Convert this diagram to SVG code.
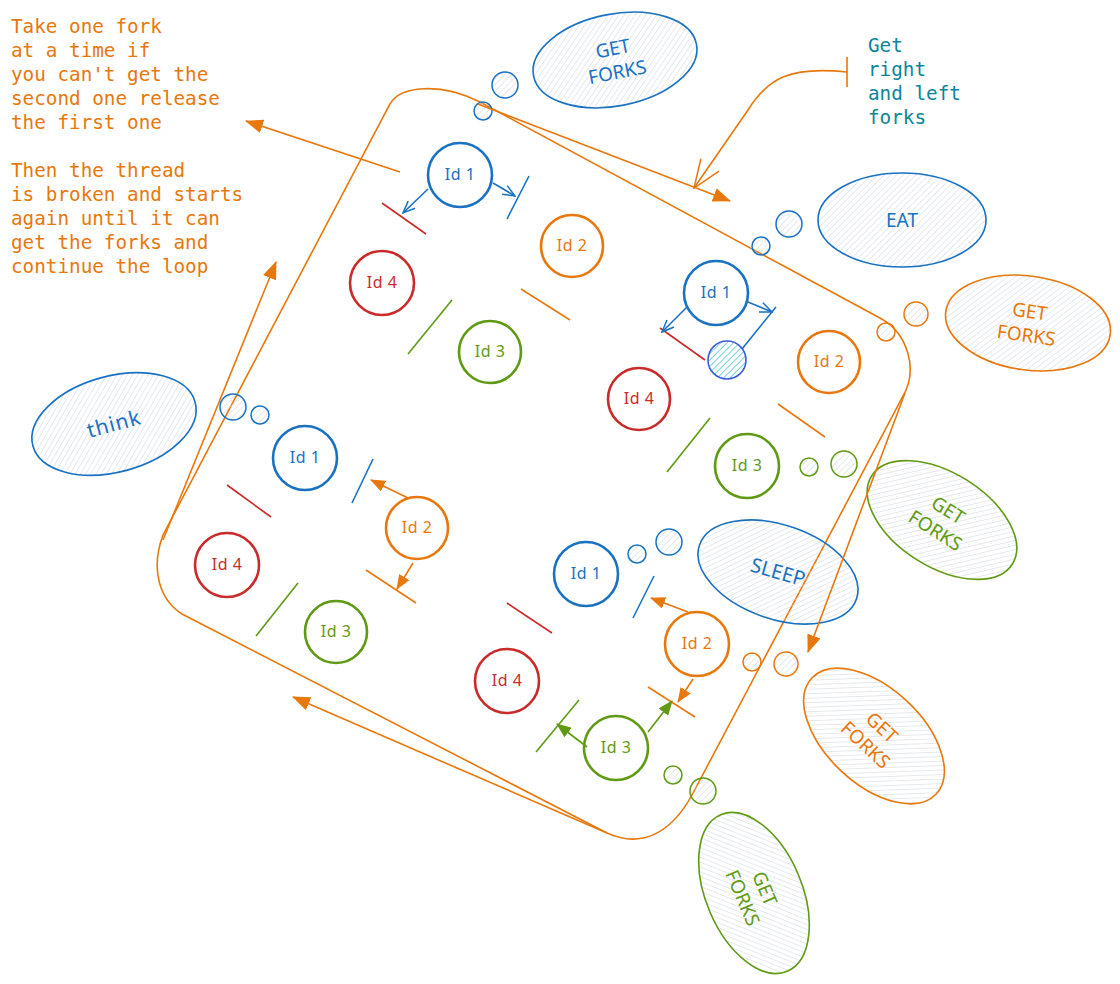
<svg xmlns="http://www.w3.org/2000/svg" width="1120" height="984" viewBox="0 0 1120 984">
<style>
.mono{font-family:"DejaVu Sans Mono","Liberation Mono",monospace;font-size:19.3px}
.lbl{font-family:"Noto Sans","Open Sans",sans-serif;font-size:19px;text-anchor:middle}
.id{font-family:"Noto Sans","Open Sans",sans-serif;font-size:16px;text-anchor:middle;letter-spacing:0.5px}
.ob{fill:#e8770c}.bb{fill:#1971c2}.rb{fill:#c92a2a}.gb{fill:#5f9a12}
.ci{fill:#fff;stroke-width:2.6}
.el{stroke-width:1.6;fill:url(#hatch)}
.sm{stroke-width:1.5;fill:url(#hatch)}
.sb{stroke:#1971c2}.so{stroke:#e8770c}.sr{stroke:#c92a2a}.sg{stroke:#5f9a12}
.fk{stroke-width:1.6;fill:none}
.ln{fill:none;stroke-width:1.6}
</style>
<defs>
<pattern id="hatch" width="4.5" height="4.5" patternUnits="userSpaceOnUse" patternTransform="rotate(45)">
<line x1="0" y1="0" x2="0" y2="4.5" stroke="#ced4da" stroke-width="1"/>
</pattern>
<pattern id="hatchc" width="4.5" height="4.5" patternUnits="userSpaceOnUse" patternTransform="rotate(45)">
<line x1="0" y1="0" x2="0" y2="4.5" stroke="#22b8cf" stroke-width="1.2"/>
</pattern>
<marker id="aO" viewBox="0 0 18 14" refX="17" refY="7" markerWidth="18" markerHeight="14" markerUnits="userSpaceOnUse" orient="auto"><path d="M0,0 L18,7 L0,14 z" fill="#e8770c"/></marker>
<marker id="aOs" viewBox="0 0 15 12" refX="14" refY="6" markerWidth="15" markerHeight="12" markerUnits="userSpaceOnUse" orient="auto"><path d="M0,0 L15,6 L0,12 z" fill="#e8770c"/></marker>
<marker id="aGs" viewBox="0 0 15 12" refX="14" refY="6" markerWidth="15" markerHeight="12" markerUnits="userSpaceOnUse" orient="auto"><path d="M0,0 L15,6 L0,12 z" fill="#5f9a12"/></marker>
<marker id="oB" viewBox="0 0 14 12" refX="13" refY="6" markerWidth="14" markerHeight="12" markerUnits="userSpaceOnUse" orient="auto"><path d="M1,1 L13,6 L1,11" fill="none" stroke="#1971c2" stroke-width="1.5"/></marker>
<marker id="oO" viewBox="0 0 30 24" refX="29" refY="12" markerWidth="30" markerHeight="24" markerUnits="userSpaceOnUse" orient="auto"><path d="M1,1 L29,12 L1,23" fill="none" stroke="#e8770c" stroke-width="1.5"/></marker>
</defs>
<rect width="1120" height="984" fill="#fff"/>

<g id="note-left">
<text class="mono ob" x="11" y="33">Take one fork</text>
<text class="mono ob" x="11" y="57">at a time if</text>
<text class="mono ob" x="11" y="81">you can't get the</text>
<text class="mono ob" x="11" y="105">second one release</text>
<text class="mono ob" x="11" y="129">the first one</text>
<text class="mono ob" x="11" y="177">Then the thread</text>
<text class="mono ob" x="11" y="201">is broken and starts</text>
<text class="mono ob" x="11" y="225">again until it can</text>
<text class="mono ob" x="11" y="249">get the forks and</text>
<text class="mono ob" x="11" y="273">continue the loop</text>
</g>
<g id="note-right">
<text class="mono" fill="#0c8599" x="868" y="52">Get</text>
<text class="mono" fill="#0c8599" x="868" y="76">right</text>
<text class="mono" fill="#0c8599" x="868" y="100">and left</text>
<text class="mono" fill="#0c8599" x="868" y="124">forks</text>
</g>

<g id="loop">
<path class="ln so" d="M163,535 L390,104 C400,86 440,82 480,102 L880,318 C906,332 920,368 902,398 L692,795 C670,835 640,848 607,833 L182,614 C160,600 150,570 163,535 Z"/>
</g>

<g id="state-get-forks-top" transform="translate(615,60) rotate(-11)">
<ellipse class="el sb" rx="83" ry="46"/>
<text class="lbl bb" y="-5">GET</text><text class="lbl bb" y="19">FORKS</text>
</g>
<g id="state-eat" transform="translate(902,220)">
<ellipse class="el sb" rx="84" ry="47"/>
<text class="lbl bb" y="7">EAT</text>
</g>
<g id="state-get-forks-right" transform="translate(1028,323) rotate(8)">
<ellipse class="el so" rx="83" ry="47"/>
<text class="lbl ob" y="-5">GET</text><text class="lbl ob" y="19">FORKS</text>
</g>
<g id="state-think" transform="translate(114,424) rotate(-15)">
<ellipse class="el sb" rx="84" ry="48"/>
<text class="lbl bb" y="7" style="font-size:21px;letter-spacing:1px">think</text>
</g>
<g id="state-get-forks-green" transform="translate(942,520) rotate(32)">
<ellipse class="el sg" rx="83" ry="47"/>
<text class="lbl gb" y="-5">GET</text><text class="lbl gb" y="19">FORKS</text>
</g>
<g id="state-sleep" transform="translate(778,572) rotate(19)">
<ellipse class="el sb" rx="83" ry="47"/>
<text class="lbl bb" y="7" transform="rotate(-3)" style="font-size:20px">SLEEP</text>
</g>
<g id="state-get-forks-orange2" transform="translate(874,736) rotate(43)">
<ellipse class="el so" rx="85" ry="48"/>
<text class="lbl ob" y="-5">GET</text><text class="lbl ob" y="19">FORKS</text>
</g>
<g id="state-get-forks-green2" transform="translate(754,893) rotate(67)">
<ellipse class="el sg" rx="85" ry="48"/>
<text class="lbl gb" y="-5">GET</text><text class="lbl gb" y="19">FORKS</text>
</g>

<g id="dots">
<circle class="sm sb" cx="505" cy="85" r="13"/><circle class="sm sb" cx="483" cy="111" r="9"/>
<circle class="sm sb" cx="789" cy="224" r="13"/><circle class="sm sb" cx="761" cy="246" r="9"/>
<circle class="sm so" cx="916" cy="314" r="12"/><circle class="sm so" cx="886" cy="332" r="9"/>
<circle class="sm sb" cx="233" cy="407" r="13"/><circle class="sm sb" cx="260" cy="415" r="9"/>
<circle class="sm sg" cx="809" cy="467" r="9"/><circle class="sm sg" cx="844" cy="464" r="13"/>
<circle class="sm sb" cx="637" cy="554" r="9"/><circle class="sm sb" cx="669" cy="542" r="13"/>
<circle class="sm so" cx="752" cy="662" r="9"/><circle class="sm so" cx="786" cy="664" r="12"/>
<circle class="sm sg" cx="673" cy="775" r="9"/><circle class="sm sg" cx="703" cy="791" r="13"/>
</g>

<g id="table-a">
<line class="fk sr" x1="382" y1="203" x2="426" y2="234"/>
<line class="fk sb" x1="529" y1="176" x2="507" y2="219"/>
<line class="fk so" x1="521" y1="289" x2="570" y2="320"/>
<line class="fk sg" x1="452" y1="300" x2="408" y2="354"/>
<g id="a-id1"><circle class="ci sb" cx="460" cy="175" r="32"/><text class="id bb" x="460" y="180">Id 1</text></g>
<g id="a-id2"><circle class="ci so" cx="572" cy="246" r="31"/><text class="id ob" x="572" y="251">Id 2</text></g>
<g id="a-id4"><circle class="ci sr" cx="382" cy="283" r="32"/><text class="id rb" x="382" y="288">Id 4</text></g>
<g id="a-id3"><circle class="ci sg" cx="490" cy="352" r="31"/><text class="id gb" x="490" y="357">Id 3</text></g>
</g>

<g id="table-b">
<line class="fk sr" x1="660" y1="328" x2="705" y2="360"/>
<line class="fk sb" x1="776" y1="307" x2="742" y2="349"/>
<line class="fk so" x1="778" y1="404" x2="825" y2="437"/>
<line class="fk sg" x1="710" y1="418" x2="667" y2="472"/>
<g id="b-fork"><circle cx="727" cy="360" r="19" fill="url(#hatchc)" stroke="#3b5bdb" stroke-width="1.6"/></g>
<g id="b-id1"><circle class="ci sb" cx="716" cy="293" r="32"/><text class="id bb" x="716" y="298">Id 1</text></g>
<g id="b-id2"><circle class="ci so" cx="829" cy="362" r="31"/><text class="id ob" x="829" y="367">Id 2</text></g>
<g id="b-id4"><circle class="ci sr" cx="639" cy="399" r="31"/><text class="id rb" x="639" y="404">Id 4</text></g>
<g id="b-id3"><circle class="ci sg" cx="747" cy="466" r="32"/><text class="id gb" x="747" y="471">Id 3</text></g>
</g>

<g id="table-c">
<line class="fk sr" x1="227" y1="485" x2="271" y2="517"/>
<line class="fk sb" x1="373" y1="459" x2="352" y2="503"/>
<line class="fk so" x1="366" y1="570" x2="416" y2="603"/>
<line class="fk sg" x1="298" y1="583" x2="256" y2="636"/>
<g id="c-id1"><circle class="ci sb" cx="305" cy="458" r="32"/><text class="id bb" x="305" y="463">Id 1</text></g>
<g id="c-id2"><circle class="ci so" cx="417" cy="528" r="31"/><text class="id ob" x="417" y="533">Id 2</text></g>
<g id="c-id4"><circle class="ci sr" cx="227" cy="565" r="32"/><text class="id rb" x="227" y="570">Id 4</text></g>
<g id="c-id3"><circle class="ci sg" cx="336" cy="632" r="31"/><text class="id gb" x="336" y="637">Id 3</text></g>
</g>

<g id="table-d">
<line class="fk sr" x1="507" y1="603" x2="552" y2="633"/>
<line class="fk sb" x1="654" y1="576" x2="633" y2="618"/>
<line class="fk so" x1="648" y1="687" x2="695" y2="717"/>
<line class="fk sg" x1="579" y1="700" x2="536" y2="752"/>
<g id="d-id1"><circle class="ci sb" cx="586" cy="574" r="32"/><text class="id bb" x="586" y="579">Id 1</text></g>
<g id="d-id2"><circle class="ci so" cx="697" cy="644" r="32"/><text class="id ob" x="697" y="649">Id 2</text></g>
<g id="d-id4"><circle class="ci sr" cx="507" cy="681" r="32"/><text class="id rb" x="507" y="686">Id 4</text></g>
<g id="d-id3"><circle class="ci sg" cx="616" cy="748" r="32"/><text class="id gb" x="616" y="753">Id 3</text></g>
</g>

<g id="connectors">
<path class="ln so" d="M478,104 L730,201" marker-end="url(#aO)"/>
<path class="ln so" d="M905,393 L808,652" marker-end="url(#aO)"/>
<path class="ln so" d="M607,833 L293,697" marker-end="url(#aO)"/>
<path class="ln so" d="M163,540 L276,262" marker-end="url(#aO)"/>
<path class="ln so" d="M400,172 L246,121" marker-end="url(#aO)"/>
<path class="ln so" d="M847,72 C790,66 768,78 748,110 L694,188" marker-end="url(#oO)"/>
<line class="ln so" x1="847" y1="57" x2="847" y2="87"/>
<path class="ln sb" d="M428,189 L403,213" marker-end="url(#oB)"/>
<path class="ln sb" d="M493,183 L515,196" marker-end="url(#oB)"/>
<path class="ln sb" d="M687,307 L662,332" marker-end="url(#oB)"/>
<path class="ln sb" d="M748,302 L772,312" marker-end="url(#oB)"/>
<path class="ln so" d="M408,498 L371,480" marker-end="url(#aOs)"/>
<path class="ln so" d="M413,563 L397,589" marker-end="url(#aOs)"/>
<path class="ln so" d="M688,612 L651,598" marker-end="url(#aOs)"/>
<path class="ln so" d="M693,679 L678,702" marker-end="url(#aOs)"/>
<path class="ln sg" d="M587,747 L557,724" marker-end="url(#aGs)"/>
<path class="ln sg" d="M648,732 L672,701" marker-end="url(#aGs)"/>
</g>
</svg>
